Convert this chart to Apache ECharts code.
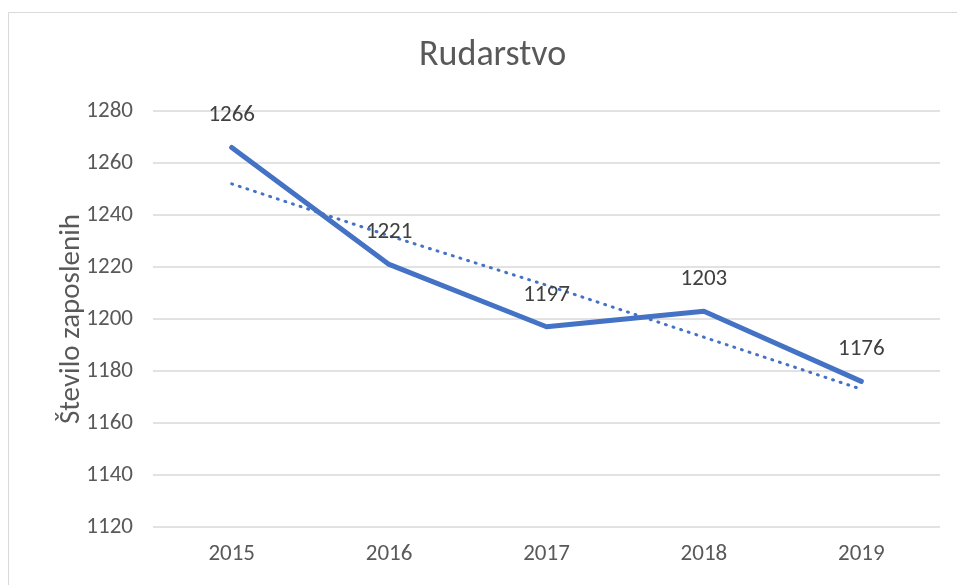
<!DOCTYPE html>
<html>
<head>
<meta charset="utf-8">
<script src="https://cdn.jsdelivr.net/npm/echarts@6/dist/echarts.min.js"></script>
<style>
  html, body { margin: 0; padding: 0; background: #fff; }
  #chart { width: 957px; height: 585px; }
</style>
</head>
<body>
<div id="chart"></div>
<script>
// podatki
const years = ['2015', '2016', '2017', '2018', '2019'];
const employees = [1266, 1221, 1197, 1203, 1176];
// linearni trend, odčitan s slike
const trend = [1252, 1232, 1213, 1193, 1173];

const chart = echarts.init(document.getElementById('chart'));
const textColor = '#595959';
const font = 'Calibri, Carlito, Lato, "Open Sans", sans-serif';

chart.setOption({
  backgroundColor: '#fff',
  animation: false,
  graphic: [{
    type: 'rect',
    shape: { x: 8.5, y: 12.5, width: 960, height: 600 },
    style: { fill: 'none', stroke: '#d9d9d9', lineWidth: 1 },
    silent: true
  }],
  title: {
    text: 'Rudarstvo',
    left: 414,
    top: 33,
    textStyle: { fontFamily: font, fontSize: 36, fontWeight: 'normal', color: textColor }
  },
  grid: { left: 153, right: 17, top: 111, bottom: 58 },
  xAxis: {
    type: 'category',
    data: years,
    axisLine: { show: false },
    axisTick: { show: false },
    axisLabel: { color: textColor, fontFamily: font, fontSize: 23, margin: 16 }
  },
  yAxis: {
    type: 'value',
    min: 1120,
    max: 1280,
    interval: 20,
    name: 'Število zaposlenih',
    nameLocation: 'middle',
    nameGap: 67,
    nameMoveOverlap: false,
    nameTextStyle: { color: textColor, fontFamily: font, fontSize: 29 },
    axisLine: { show: false },
    axisTick: { show: false },
    axisLabel: {
      color: textColor, fontFamily: font, fontSize: 23, margin: 20,
      formatter: v => String(v)
    },
    splitLine: { lineStyle: { color: '#d9d9d9', width: 1.5 } }
  },
  series: [
    {
      name: 'Število zaposlenih',
      type: 'line',
      data: employees,
      symbol: 'circle',
      symbolSize: 1,
      itemStyle: { color: 'rgba(0,0,0,0)', borderWidth: 0 },
      lineStyle: { color: '#4472C4', width: 5, join: 'round', cap: 'round' },
      label: {
        show: true,
        position: 'top',
        distance: 20,
        color: '#404040',
        fontFamily: font,
        fontSize: 23
      },
      z: 3
    },
    {
      name: 'Trend',
      type: 'line',
      data: trend,
      symbol: 'none',
      lineStyle: { color: '#4472C4', width: 3, type: [1, 7], cap: 'round' },
      z: 2
    }
  ]
});
</script>
</body>
</html>
